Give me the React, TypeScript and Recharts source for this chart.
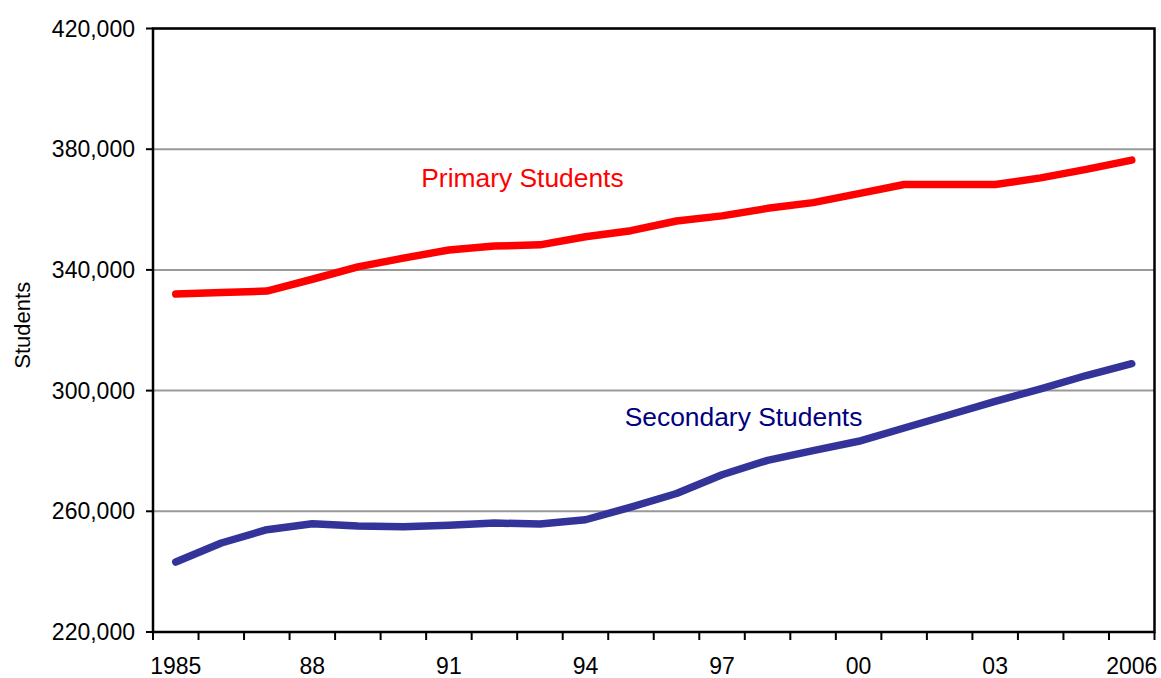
import {
  LineChart,
  Line,
  XAxis,
  YAxis,
  CartesianGrid,
  ReferenceArea,
  ReferenceDot,
} from "recharts";

// Enrolment by school year
const years = [
  "1985", "1986", "1987", "1988", "1989", "1990", "1991", "1992", "1993", "1994", "1995",
  "1996", "1997", "1998", "1999", "2000", "2001", "2002", "2003", "2004", "2005", "2006",
];

const primaryStudents = [
  332000, 332500, 333000, 336900, 341000, 343900, 346600, 347900, 348300, 351000, 353000,
  356200, 357900, 360400, 362300, 365300, 368300, 368300, 368300, 370500, 373300, 376400,
];

const secondaryStudents = [
  243200, 249500, 253900, 255900, 255100, 254900, 255400, 256100, 255800, 257200, 261400,
  265900, 272100, 276900, 280100, 283200, 287600, 292000, 296400, 300600, 305000, 308900,
];

const yTicks = [220000, 260000, 300000, 340000, 380000, 420000];

// every third year gets a label, written short except at the ends
const labelledYears = ["1985", "1988", "1991", "1994", "1997", "2000", "2003", "2006"];

const data = years.map((year, i) => ({
  year,
  primary: primaryStudents[i],
  secondary: secondaryStudents[i],
}));

const FONT = "Liberation Sans, Arial, sans-serif";

function formatYear(year: string) {
  if (year === years[0] || year === years[years.length - 1]) return year;
  return year.slice(2);
}

// Tick marks sit on the year boundaries, labels on the year centres
function YearTick(props: any) {
  const { x, y, payload, index } = props;
  const half = payload.offset ?? 0;
  const isLast = index === years.length - 1;
  const showLabel = labelledYears.includes(payload.value);
  return (
    <g>
      <line x1={x - half} x2={x - half} y1={y} y2={y + 8} stroke="#000" strokeWidth={2} />
      {isLast && (
        <line x1={x + half} x2={x + half} y1={y} y2={y + 8} stroke="#000" strokeWidth={2} />
      )}
      {showLabel && (
        <text
          x={x}
          y={y + 26}
          dy="0.71em"
          textAnchor="middle"
          fill="#000"
          fontSize={23}
          fontFamily={FONT}
        >
          {formatYear(payload.value)}
        </text>
      )}
    </g>
  );
}

export default function App() {
  return (
    <div style={{ fontFamily: FONT, width: 1161, height: 678 }}>
      <style>{"html,body{margin:0;overflow:hidden}svg{display:block;overflow:visible}"}</style>
      <LineChart
        width={1161}
        height={678}
        data={data}
        margin={{ top: 28.5, right: 6.5, bottom: 0, left: 0 }}
      >
        <CartesianGrid vertical={false} stroke="#999999" strokeWidth={2} />
        <XAxis
          dataKey="year"
          scale="band"
          height={46}
          interval={0}
          tick={<YearTick />}
          tickLine={false}
          tickSize={0}
          tickMargin={0}
          axisLine={{ stroke: "#000", strokeWidth: 2 }}
        />
        <YAxis
          width={153}
          domain={[220000, 420000]}
          ticks={yTicks}
          interval={0}
          tickFormatter={(v: number) => v.toLocaleString("en-US")}
          tickSize={7}
          tickMargin={11}
          axisLine={{ stroke: "#000", strokeWidth: 2 }}
          tickLine={{ stroke: "#000", strokeWidth: 2 }}
          tick={{ fill: "#000", fontSize: 23, fontFamily: FONT }}
          label={{
            value: "Students",
            angle: -90,
            position: "center",
            dx: -54,
            dy: -5,
            fill: "#000",
            fontSize: 22,
            fontFamily: FONT,
          }}
        />
        {/* black frame round the whole plot */}
        <ReferenceArea
          x1={years[0]}
          x2={years[years.length - 1]}
          y1={220000}
          y2={420000}
          fill="none"
          fillOpacity={0}
          stroke="#000"
          strokeWidth={2.5}
          strokeOpacity={1}
          ifOverflow="visible"
        />
        <Line
          dataKey="primary"
          stroke="#ff0000"
          strokeWidth={7.5}
          strokeLinecap="round"
          strokeLinejoin="round"
          dot={false}
          isAnimationActive={false}
        />
        <Line
          dataKey="secondary"
          stroke="#333399"
          strokeWidth={7.5}
          strokeLinecap="round"
          strokeLinejoin="round"
          dot={false}
          isAnimationActive={false}
        />
        <ReferenceDot
          x="1993"
          y={370700}
          r={0}
          label={{
            value: "Primary Students",
            position: "center",
            dx: -17.5,
            fill: "#ff0000",
            fontSize: 26.4,
            fontFamily: FONT,
          }}
        />
        <ReferenceDot
          x="1997"
          y={291300}
          r={0}
          label={{
            value: "Secondary Students",
            position: "center",
            dx: 21.5,
            fill: "#000080",
            fontSize: 26.4,
            fontFamily: FONT,
          }}
        />
      </LineChart>
    </div>
  );
}
